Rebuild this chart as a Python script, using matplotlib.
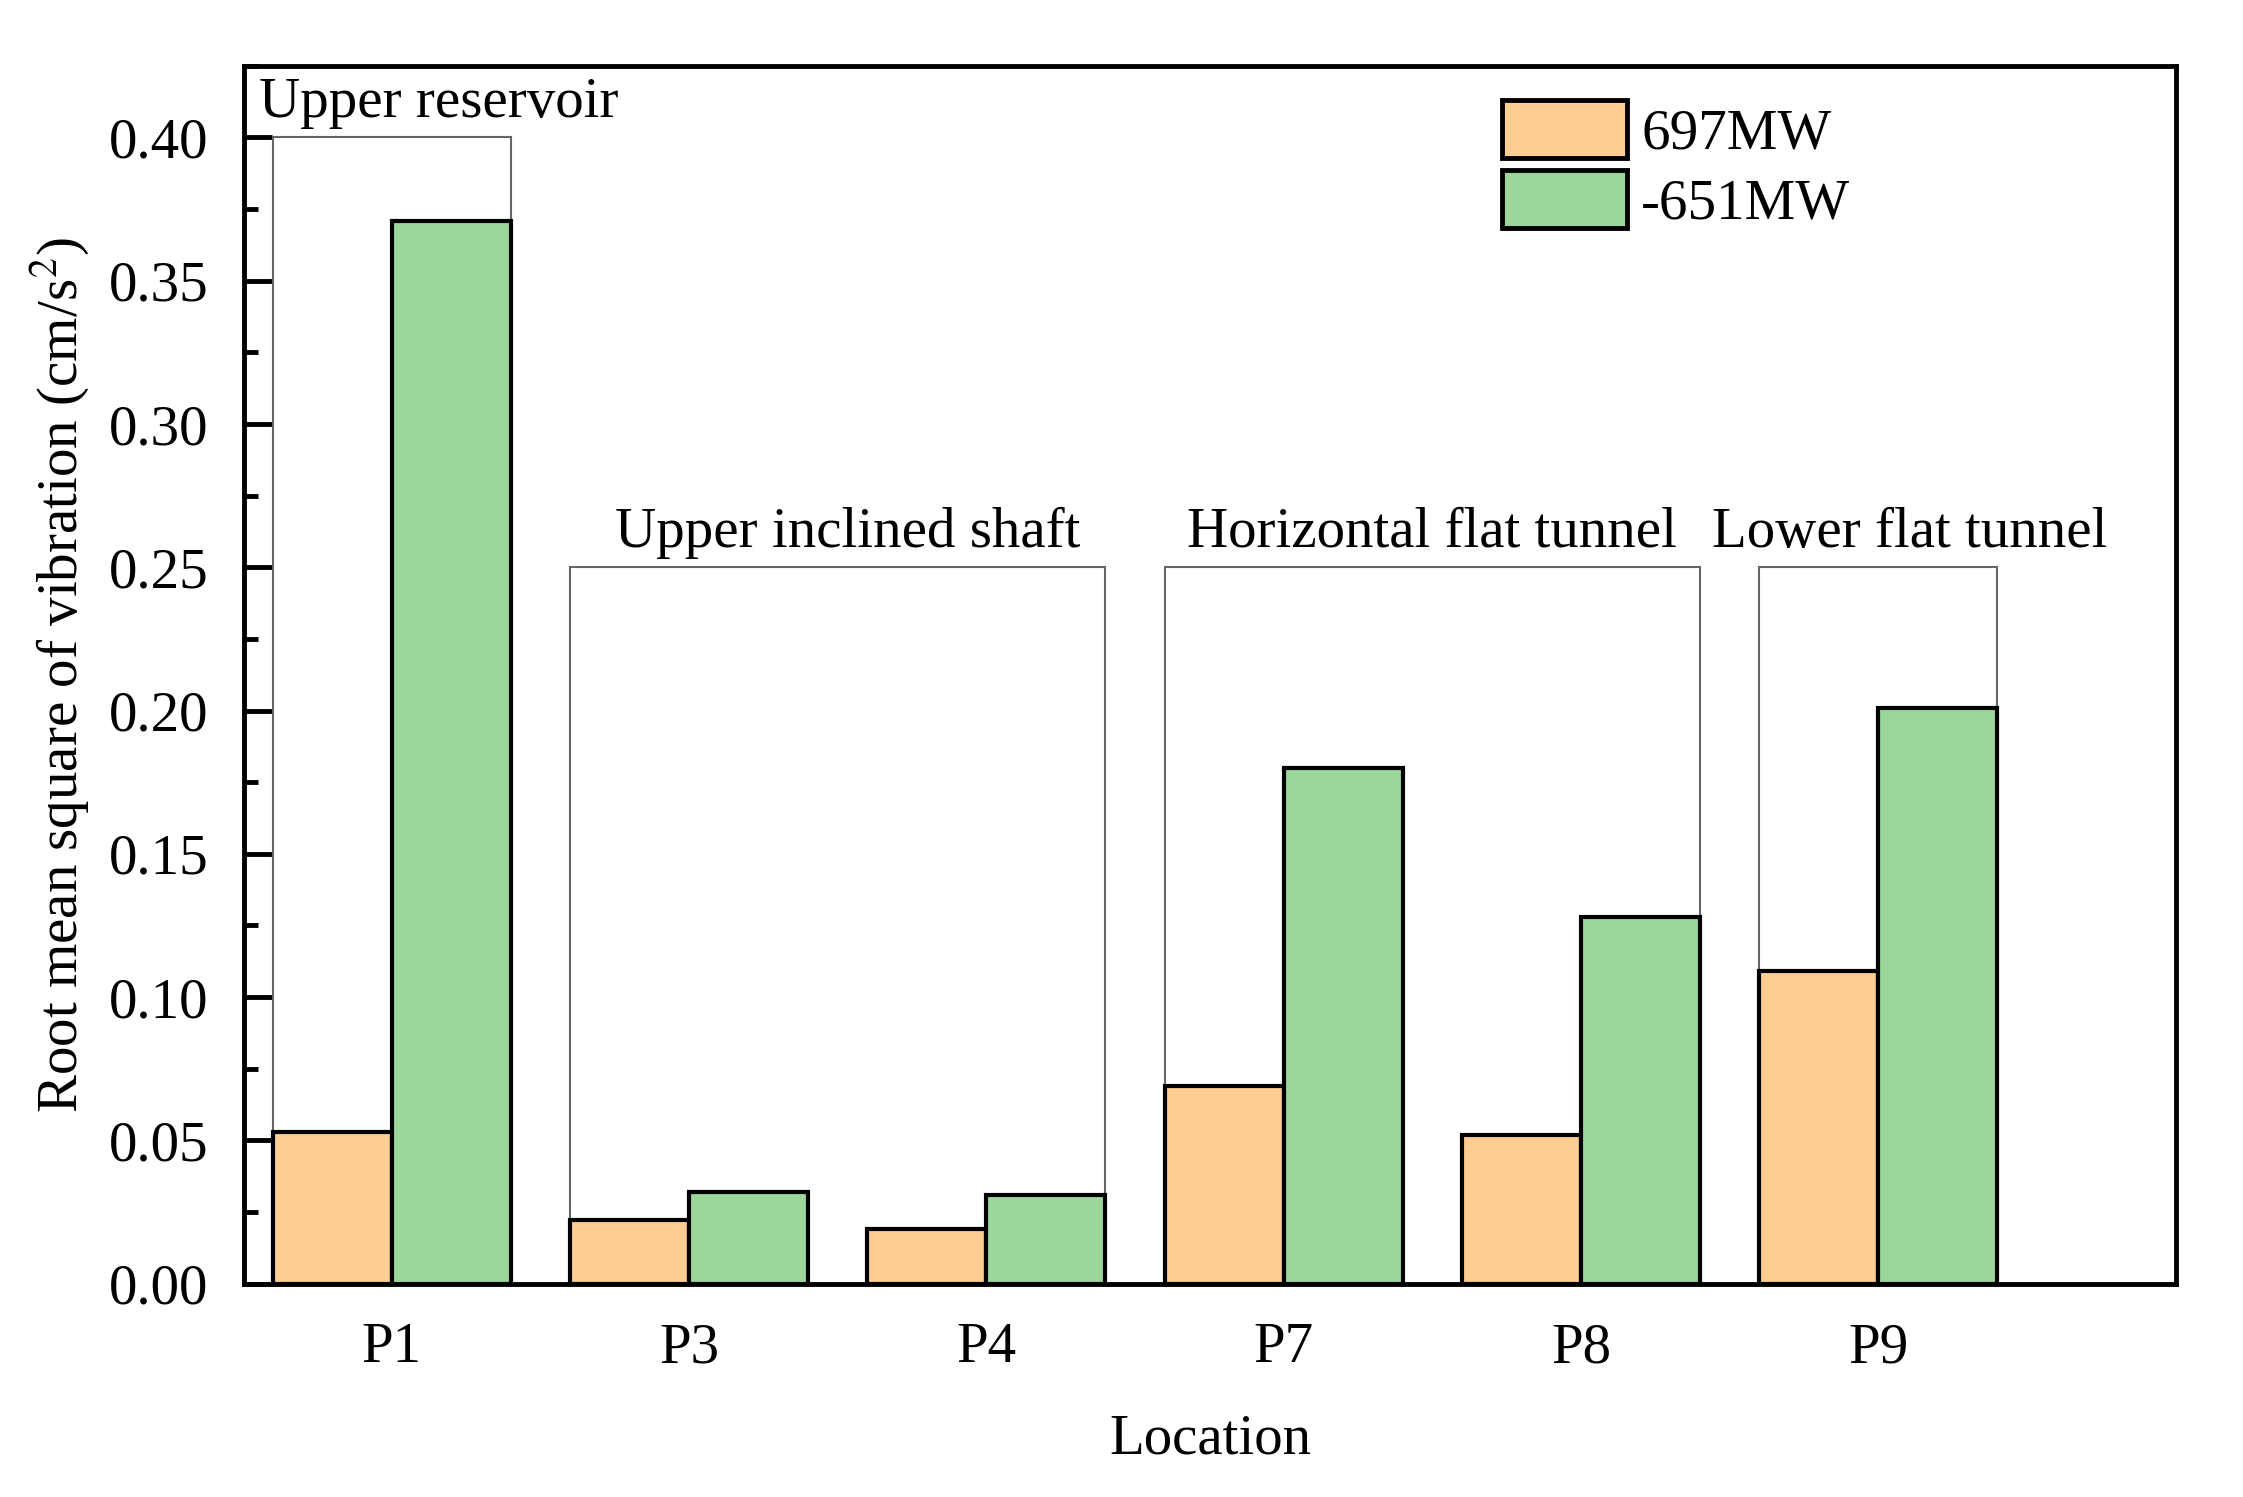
import matplotlib
matplotlib.use("Agg")
import matplotlib.pyplot as plt
import numpy as np
from matplotlib.patches import Rectangle, Patch
from matplotlib.ticker import MultipleLocator, FormatStrFormatter

# Data
locations = ["P1", "P3", "P4", "P7", "P8", "P9"]
rms_697 = [0.053, 0.022, 0.019, 0.069, 0.052, 0.109]
rms_651 = [0.371, 0.032, 0.031, 0.180, 0.128, 0.201]
series_labels = ["697MW", "-651MW"]

# Group boxes: label, first/last location index, box top, label x offset
group_names = ["Upper reservoir", "Upper inclined shaft", "Horizontal flat tunnel", "Lower flat tunnel"]
group_first = [0, 1, 3, 5]
group_last = [0, 2, 4, 5]
group_top = [0.40, 0.25, 0.25, 0.25]
label_shift = [0.0, 0.034, 0.0, 0.106]

plt.rcParams["font.family"] = ["Liberation Serif", "DejaVu Serif"]
plt.rcParams["mathtext.fontset"] = "stix"

FS = 41
c_orange = "#FDCD92"
c_green = "#9CD69A"

fig = plt.figure(figsize=(22.43, 14.97), dpi=100)
ax = fig.add_axes([0.109, 0.1426, 0.861, 0.8134])

x = np.arange(1, len(locations) + 1)
w = 0.4
ax.bar(x - w / 2, rms_697, width=w, color=c_orange, edgecolor="black", linewidth=3, zorder=3)
ax.bar(x + w / 2, rms_651, width=w, color=c_green, edgecolor="black", linewidth=3, zorder=3)

# thin grey boxes around location groups
for name, i0, i1, top, dx in zip(group_names, group_first, group_last, group_top, label_shift):
    left = x[i0] - w
    right = x[i1] + w
    ax.add_patch(Rectangle((left, 0), right - left, top, fill=False,
                           edgecolor="#666666", linewidth=1.5, zorder=2))
    if i0 == 0:
        ax.text(left - 0.047, top + 0.003, name, fontsize=FS, ha="left", va="bottom")
    else:
        ax.text((left + right) / 2 + dx, top + 0.003, name, fontsize=FS, ha="center", va="bottom")

ax.set_xlim(0.505, 7.0)
ax.set_ylim(0, 0.425)
ax.set_xticks(x)
ax.set_xticklabels(locations)
ax.yaxis.set_major_locator(MultipleLocator(0.05))
ax.yaxis.set_minor_locator(MultipleLocator(0.025))
ax.yaxis.set_major_formatter(FormatStrFormatter("%.2f"))
ax.tick_params(axis="y", which="major", direction="in", length=20, width=3.5, labelsize=FS, pad=26)
ax.tick_params(axis="y", which="minor", direction="in", length=10, width=3.5)
ax.tick_params(axis="x", length=0, labelsize=FS, pad=28)
for sp in ax.spines.values():
    sp.set_linewidth(3.5)
    sp.set_zorder(5)

ax.set_xlabel("Location", fontsize=FS, labelpad=28)
ax.set_ylabel("Root mean square of vibration (cm/s$^2$)", fontsize=FS, labelpad=12)

handles = [Patch(facecolor=c_orange, edgecolor="black", linewidth=3.5),
           Patch(facecolor=c_green, edgecolor="black", linewidth=3.5)]
ax.legend(handles, series_labels, loc="upper left", bbox_to_anchor=(0.651, 0.972),
          frameon=False, fontsize=FS, handlelength=2.2, handleheight=1.2,
          handletextpad=0.25, labelspacing=0.17, borderpad=0, borderaxespad=0)

fig.savefig("out.png", dpi=100)
